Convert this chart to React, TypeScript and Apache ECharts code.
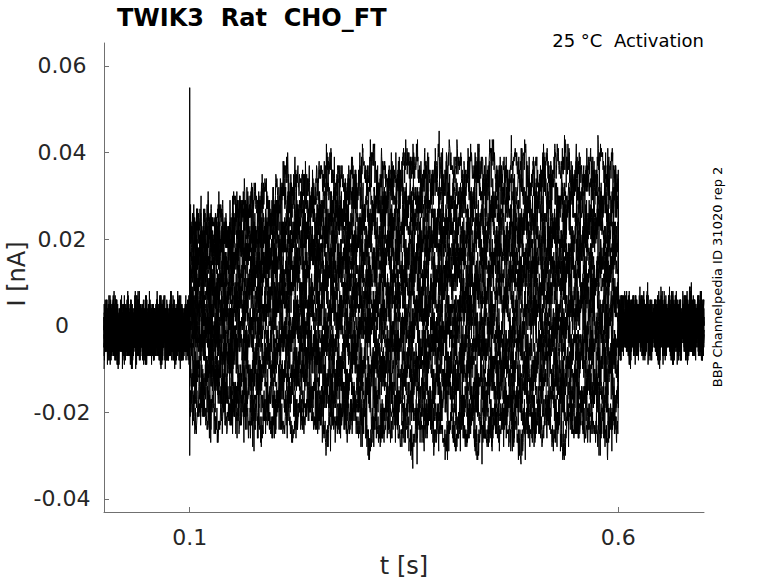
import React, { useEffect, useRef } from "react";
import * as echarts from "echarts";

// Axis ticks
const xTicks = [0.1, 0.6];
const yTicks = [-0.04, -0.02, 0, 0.02, 0.04, 0.06];

// Sampling of the recorded traces (s)
const sampleStep = 0.00025;
const sampleCount = 2801; // 0 .. 0.7 s
const stepStartIndex = 400; // 0.1 s
const stepEndIndex = 2400; // 0.6 s
const knotLength = 200; // samples per 0.05 s segment

// Step-current levels of each trace (1e-3 nA), read every 0.05 s from 0.1 s to 0.55 s
const trace0 = [-20, -21, -21, -22, -23, -24, -24, -24, -23, -23];
const trace1 = [-16, -17, -17, -18, -19, -19, -20, -20, -19, -19];
const trace2 = [-12, -13, -13, -14, -14, -15, -15, -15, -15, -14];
const trace3 = [-8, -9, -9, -10, -10, -10, -11, -11, -10, -10];
const trace4 = [-4, -5, -5, -6, -6, -6, -6, -7, -6, -6];
const trace5 = [-1, -1, -2, -2, -2, -2, -3, -3, -2, -2];
const trace6 = [2, 2, 2, 2, 2, 2, 2, 1, 2, 2];
const trace7 = [5, 6, 6, 6, 6, 6, 6, 6, 6, 6];
const trace8 = [8, 9, 10, 10, 10, 10, 10, 10, 10, 10];
const trace9 = [11, 13, 14, 14, 14, 14, 14, 14, 14, 14];
const trace10 = [14, 16, 17, 18, 18, 18, 18, 18, 18, 18];
const trace11 = [17, 19, 21, 22, 22, 22, 22, 22, 22, 22];
const trace12 = [19, 22, 24, 25, 26, 26, 26, 26, 26, 26];
const trace13 = [21, 25, 28, 29, 30, 31, 31, 31, 31, 31];
const trace14 = [23, 28, 32, 34, 35, 36, 36, 36, 36, 36];
const traces = [trace0, trace1, trace2, trace3, trace4, trace5, trace6, trace7, trace8, trace9, trace10, trace11, trace12, trace13, trace14];

// Capacitive transient at step onset (1e-3 nA), null = none
const onsetValues = [-30, null, null, null, null, null, null, null, null, null, null, null, null, null, 55];

// Holding current before and after the step (1e-3 nA)
const preLevel = -1;
const postLevel = 0;

// Hand-typed recording noise samples (1e-3 nA)
const noiseFast = [
  1, -2, 3, 0, -3, 2, -1, 4, -2, 0,
  -4, 1, 2, -1, 3, -3, 0, 5, -2, 1,
  -1, 2, -3, 0, 3, -2, -5, 1, 2, -1,
  0, 3, -2, 1, -3, 4, -1, 0, 2, -4,
  1, -1, 6, -2, 0, 2, -3, 1, -1, 3,
  -2, 0, -4, 2, 1, -3, 3, 0, -1, 2,
  -2, 4, -1, -3, 1, 0, 2, -5, 3, -1,
  0, 2, -2, 1, -3, 3, -1, 0, 5, -2,
  1, -4, 2, 0, -1, 3, -2, 1, -6, 2,
  0, -1, 3, -2, 1, -3, 2, 4, -1, 0,
  -2,
];
const noiseJitter = [
  1, -1, 0, 2, -2, 1, 0, -1, 2, -1,
  -2, 1, 0, 1, -2, 2, 0, -1, 1, -1,
  2, -2, 0, 1, -1, 0, 2, -1, -2, 1,
  1, -2, 0, 2, -1, 0, -1, 1, 2, -2,
  0, -1, 1, 0, -2, 2, -1, 1, 0, -1,
  2, -2, 0,
];
const noiseWander = [
  0, 1, 2, 1, 0, -1, -2, -1, 0, 1,
  1, 2, 0, -1, -1, -2, 0, 1, 2, 1,
  -1, 0, -2, -1, 1, 0, 2, 1, -1, -2,
  0, 1, -1, 0, 2, -1, -2,
];
const wanderLength = 24; // samples per wander value

const TEXT = "#262626";
const FONT = "DejaVu Sans";

function noiseAt(i: number, j: number): number {
  return (
    noiseFast[(j * 7 + i * 29) % noiseFast.length] +
    noiseJitter[(j * 3 + Math.floor(j / 101) + i * 11) % noiseJitter.length] +
    noiseWander[(Math.floor(j / wanderLength) + i * 5) % noiseWander.length]
  );
}

function buildTrace(i: number): number[][] {
  const levels = traces[i];
  const out: number[][] = [];
  for (let j = 0; j < sampleCount; j++) {
    const t = Number((j * sampleStep).toFixed(5));
    const n = noiseAt(i, j);
    let v: number;
    if (j < stepStartIndex) v = preLevel + n;
    else if (j === stepStartIndex && onsetValues[i] !== null) v = onsetValues[i] as number;
    else if (j <= stepEndIndex) {
      const k = Math.min(levels.length - 1, Math.floor((j - stepStartIndex) / knotLength));
      v = levels[k] + n;
    } else v = postLevel + n;
    out.push([t, v / 1000]);
  }
  return out;
}

export default function App() {
  const ref = useRef<HTMLDivElement>(null);
  useEffect(() => {
    if (!ref.current) return;
    const chart = echarts.init(ref.current, undefined, { renderer: "svg" });
    const series = traces.map((_, i) => ({
      type: "line",
      data: buildTrace(i),
      showSymbol: false,
      symbol: "none",
      lineStyle: { color: "#000", width: 1 },
      silent: true,
      z: 2,
    }));
    chart.setOption({
      animation: false,
      grid: { left: 104, right: 74, top: 43, bottom: 71, containLabel: false, outerBoundsMode: "none" },
      xAxis: {
        type: "value",
        min: 0,
        max: 0.7,
        name: "t [s]",
        nameLocation: "middle",
        nameGap: 42,
        nameTextStyle: { fontFamily: FONT, fontSize: 24, color: TEXT },
        axisLine: { show: true, onZero: false, lineStyle: { color: "#707070", width: 1 } },
        axisTick: { show: true, inside: true, length: 5, customValues: xTicks, lineStyle: { color: "#707070" } },
        axisLabel: {
          customValues: xTicks,
          fontFamily: FONT,
          fontSize: 22,
          color: TEXT,
          margin: 14,
          formatter: (v: number) => String(v),
        },
        splitLine: { show: false },
      },
      yAxis: {
        type: "value",
        min: -0.04304,
        max: 0.06531,
        axisLine: { show: true, onZero: false, lineStyle: { color: "#707070", width: 1 } },
        axisTick: { show: true, inside: true, length: 5, customValues: yTicks, lineStyle: { color: "#707070" } },
        axisLabel: {
          customValues: yTicks,
          fontFamily: FONT,
          fontSize: 22,
          color: TEXT,
          margin: 42,
          align: "center",
          formatter: (v: number) => (Math.abs(v) < 1e-9 ? "0" : v.toFixed(2)),
        },
        splitLine: { show: false },
      },
      series,
      graphic: [
        {
          type: "text",
          left: 117,
          top: 6,
          style: { text: "TWIK3  Rat  CHO_FT", font: `bold 24px "${FONT}"`, fill: "#000" },
        },
        {
          type: "text",
          right: 74,
          top: 31,
          style: { text: "25 °C  Activation", font: `18px "${FONT}"`, fill: "#000" },
        },
        {
          type: "text",
          x: 17,
          y: 274,
          rotation: Math.PI / 2,
          style: {
            text: "I [nA]",
            font: `24px "${FONT}"`,
            fill: TEXT,
            align: "center",
            verticalAlign: "middle",
          },
        },
        {
          type: "text",
          x: 717,
          y: 277,
          rotation: Math.PI / 2,
          style: {
            text: "BBP Channelpedia ID 31020 rep 2",
            font: `13px "${FONT}"`,
            fill: "#000",
            align: "center",
            verticalAlign: "middle",
          },
        },
      ],
    });
    return () => chart.dispose();
  }, []);
  return <div ref={ref} style={{ position: "absolute", left: 0, top: 0, width: 778, height: 583 }} />;
}
